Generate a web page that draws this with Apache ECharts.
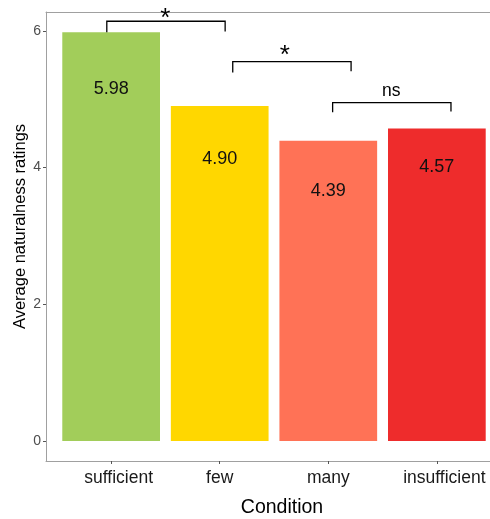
<!DOCTYPE html>
<html><head><meta charset="utf-8">
<script src="https://cdn.jsdelivr.net/npm/echarts@6/dist/echarts.min.js"></script>
<style>html,body{margin:0;padding:0;background:#fff}#c{width:490px;height:519px}</style>
</head><body><div id="c"></div><script>
// ---- data ----
const categories = ['sufficient', 'few', 'many', 'insufficient'];
const ratings = [5.98, 4.90, 4.39, 4.57];
const barColors = ['#A2CD5A', '#FFD700', '#FF7256', '#EE2C2C'];
const valueLabelY = [5.15, 4.12, 3.66, 4.00];
const yTicks = [0, 2, 4, 6];
const xTicks = [0, 1, 2, 3];
// significance brackets
const bracketLeft = [-0.04, 1.12, 2.04];
const bracketRight = [1.05, 2.21, 3.13];
const bracketTop = [6.14, 5.55, 4.95];
const bracketTipLeft = [5.98, 5.39, 4.81];
const bracketTipRight = [5.99, 5.41, 4.82];
const annoText = ['*', '*', 'ns'];
const annoX = [0.50, 1.60, 2.58];
const annoY = [6.17, 5.64, 5.11];

const FONT = "'Liberation Sans', Arial, Helvetica, sans-serif";
const AXIS_GREY = '#a0a0a0';
const chart = echarts.init(document.getElementById('c'), null, {renderer: 'canvas'});

const option = {
  animation: false,
  backgroundColor: '#fff',
  textStyle: {fontFamily: FONT},
  grid: {left: 46, top: 12, width: 456, height: 449, show: false, containLabel: false, outerBoundsMode: 'none'},
  xAxis: [{
    type: 'value', min: -0.6, max: 3.6,
    splitLine: {show: false},
    axisLine: {show: true, onZero: false, lineStyle: {color: AXIS_GREY, width: 1}},
    axisTick: {show: true, customValues: xTicks, length: 3, lineStyle: {color: '#555'}},
    axisLabel: {
      customValues: xTicks, margin: 8,
      formatter: function (v) {
        const name = categories[Math.round(v)];
        return (name.length > 5 ? '{w|' : '{n|') + name + '}';
      },
      rich: {
        w: {fontSize: 17.5, color: '#1a1a1a', fontFamily: FONT, padding: [0, 0, 0, 15]},
        n: {fontSize: 17.5, color: '#1a1a1a', fontFamily: FONT}
      }
    },
    name: 'Condition', nameLocation: 'middle', nameGap: 37,
    nameTextStyle: {fontSize: 19.5, color: '#000', fontFamily: FONT, padding: [0, 0, 0, 16]}
  }, {
    type: 'value', min: -0.6, max: 3.6, position: 'top',
    splitLine: {show: false},
    axisLine: {show: true, onZero: false, lineStyle: {color: AXIS_GREY, width: 1}},
    axisTick: {show: false},
    axisLabel: {show: false}
  }],
  yAxis: {
    type: 'value', min: -0.293, max: 6.275,
    splitLine: {show: false},
    axisLine: {show: true, onZero: false, lineStyle: {color: AXIS_GREY, width: 1}},
    axisTick: {show: true, customValues: yTicks, length: 3, lineStyle: {color: '#555'}},
    axisLabel: {customValues: yTicks, fontSize: 14, color: '#4D4D4D', margin: 5, fontFamily: FONT},
    name: 'Average naturalness ratings', nameLocation: 'middle', nameGap: 17, nameMoveOverlap: false,
    nameTextStyle: {fontSize: 16.5, color: '#000', fontFamily: FONT, padding: [0, 0, 0, 20]}
  },
  series: [
    {
      type: 'bar', barWidth: '90%', z: 2, xAxisIndex: 0,
      data: ratings.map((v, i) => ({value: [i, v], itemStyle: {color: barColors[i]}}))
    },
    {
      type: 'custom', coordinateSystem: 'cartesian2d', z: 6, xAxisIndex: 0,
      data: ratings.map((v, i) => [i, valueLabelY[i]]),
      encode: {x: 0, y: 1},
      renderItem: function (params, api) {
        const i = params.dataIndex;
        const p = api.coord([i, valueLabelY[i]]);
        return {type: 'text', x: p[0], y: p[1], z2: 10,
          style: {text: ratings[i].toFixed(2), fontSize: 18, fontFamily: FONT, fill: '#111', align: 'center', verticalAlign: 'middle'}};
      }
    },
    {
      type: 'custom', coordinateSystem: 'cartesian2d', z: 5, xAxisIndex: 0,
      data: bracketLeft.map((l, i) => [l, bracketTop[i]]),
      encode: {x: 0, y: 1},
      renderItem: function (params, api) {
        const i = params.dataIndex;
        const pts = [
          api.coord([bracketLeft[i], bracketTipLeft[i]]),
          api.coord([bracketLeft[i], bracketTop[i]]),
          api.coord([bracketRight[i], bracketTop[i]]),
          api.coord([bracketRight[i], bracketTipRight[i]])
        ];
        return {type: 'polyline', shape: {points: pts}, style: {stroke: '#000', lineWidth: 1.3, fill: null}};
      }
    },
    {
      type: 'custom', coordinateSystem: 'cartesian2d', z: 6, xAxisIndex: 0,
      data: annoX.map((x, i) => [x, annoY[i]]),
      encode: {x: 0, y: 1},
      renderItem: function (params, api) {
        const i = params.dataIndex;
        const p = api.coord([annoX[i], annoY[i]]);
        const star = annoText[i] === '*';
        return {type: 'text', x: p[0], y: p[1], z2: 10,
          style: {text: annoText[i], fontSize: star ? 26 : 17.5, fontFamily: FONT, fill: '#000', align: 'center', verticalAlign: 'middle'}};
      }
    }
  ]
};
chart.setOption(option);
</script></body></html>
